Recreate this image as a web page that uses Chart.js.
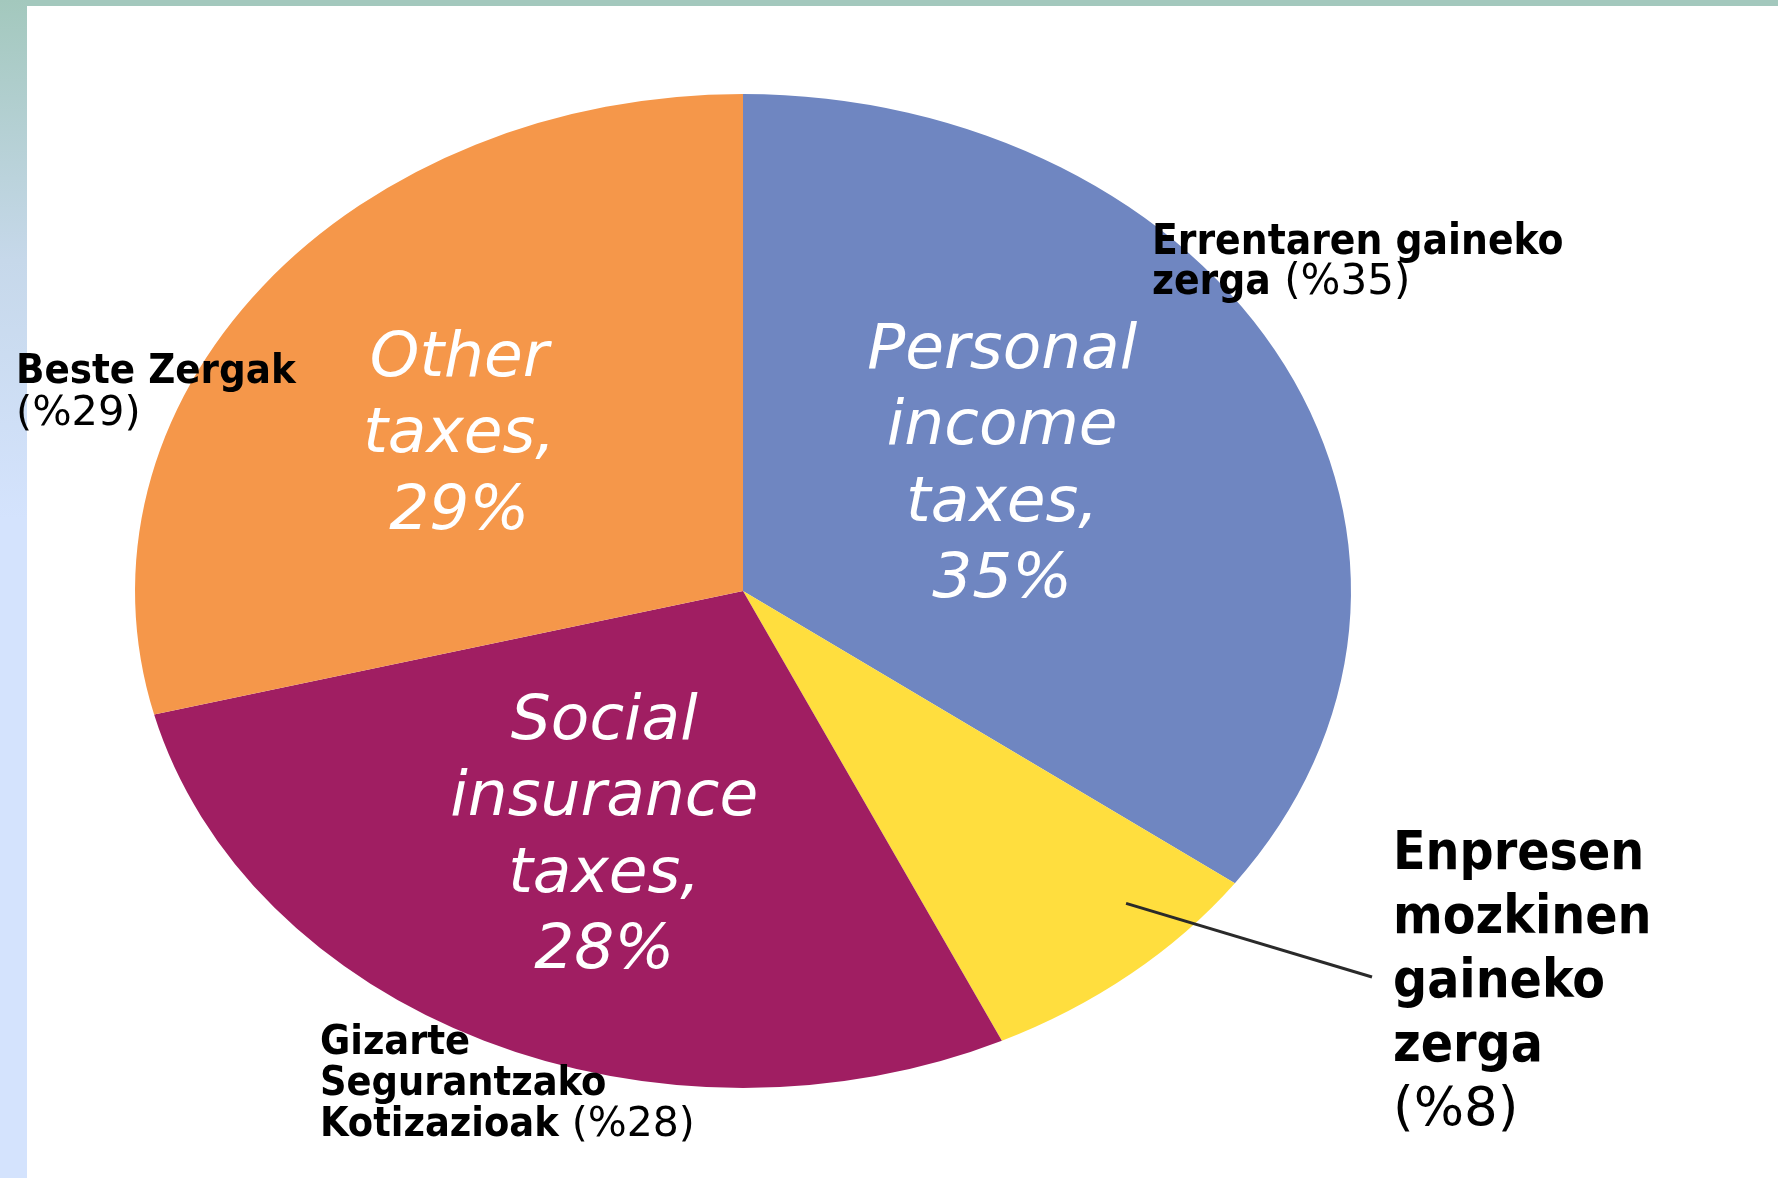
<!DOCTYPE html>
<html>
<head>
<meta charset="utf-8">
<title>Tax revenue by source</title>
<script src="https://cdn.jsdelivr.net/npm/chart.js@4.4.1/dist/chart.umd.min.js"></script>
<style>
  html, body { margin: 0; padding: 0; background: #fff; }
  #frame { position: relative; width: 1778px; height: 1178px; overflow: hidden; background: #fff; }
  #topbar { position: absolute; left: 0; top: 0; width: 1778px; height: 6px; background: #a3c8bd; }
  #sidebar {
    position: absolute; left: 0; top: 0; width: 27px; height: 1178px;
    background: linear-gradient(#a3c8bd 0px, #c6d8ea 260px, #d4e3fd 520px, #d4e3fd 1178px);
  }
  #pie { position: absolute; left: 0; top: 0; }
  .ext { position: absolute; font-family: "DejaVu Sans", sans-serif; color: #000; white-space: nowrap; }
  .ext b { font-family: "DejaVu Sans Condensed", "DejaVu Sans", sans-serif; font-stretch: condensed; font-weight: bold; }
</style>
</head>
<body>
<div id="frame">
  <div id="topbar"></div>
  <div id="sidebar"></div>
  <canvas id="pie" width="1778" height="1178"></canvas>
  <div id="labels"></div>
</div>

<script>
// ── Data ─────────────────────────────────────────────────────
const CATEGORIES = ['Personal income taxes', 'Corporate income taxes', 'Social insurance taxes', 'Other taxes'];
const SHARES     = [35, 8, 28, 29];
const COLORS     = ['#6f86c1', '#ffde3e', '#a01e62', '#f5974a'];

// words shown inside the slices (percentage is appended from SHARES)
const INNER_WORDS = [['Personal', 'income', 'taxes,'], null, ['Social', 'insurance', 'taxes,'], ['Other', 'taxes,']];

// Basque labels outside the pie
const BASQUE_LINES = [
  ['Errentaren gaineko', 'zerga'],
  ['Enpresen', 'mozkinen', 'gaineko', 'zerga'],
  ['Gizarte', 'Segurantzako', 'Kotizazioak'],
  ['Beste Zergak']
];

// ── Layout / style ───────────────────────────────────────────
const STRETCH = 1.2233;               // pie is an ellipse: horizontal / vertical radius
const INNER_R  = [0.50, 0, 0.536, 0.567];
const INNER_DA = [-4.5, 0, 0, -3.2];  // degrees
const INNER_DY = 5;
const INNER_FONT = 'italic 63px "DejaVu Sans"';
const INNER_LH = 76.5;

const EXT_STYLE = [
  { left: 1152, top: 220, size: 42, lh: 40, pctOwnLine: false },
  { left: 1393, top: 819, size: 53, lh: 64, pctOwnLine: true },
  { left: 320,  top: 1020, size: 41, lh: 41, pctOwnLine: false },
  { left: 16,   top: 348, size: 41.5, lh: 42, pctOwnLine: true }
];

// ── External labels (HTML text) ──────────────────────────────
document.getElementById('labels').innerHTML = BASQUE_LINES.map((lines, i) => {
  const s = EXT_STYLE[i];
  const pct = `(%${SHARES[i]})`;
  const body = lines.map(l => `<b>${l}</b>`);
  if (s.pctOwnLine) body.push(pct);
  else body[body.length - 1] += ' ' + pct;
  return `<div class="ext" style="left:${s.left}px;top:${s.top}px;font-size:${s.size}px;line-height:${s.lh}px;">` +
         body.join('<br>') + '</div>';
}).join('');

// ── Plugins ──────────────────────────────────────────────────
const ellipsePlugin = {
  id: 'ellipse',
  beforeDatasetsDraw(chart) {
    const a = chart.chartArea, ctx = chart.ctx;
    const cx = (a.left + a.right) / 2;
    ctx.save();
    ctx.translate(cx, 0);
    ctx.scale(STRETCH, 1);
    ctx.translate(-cx, 0);
  },
  afterDatasetsDraw(chart) { chart.ctx.restore(); }
};

const labelPlugin = {
  id: 'innerLabels',
  afterDraw(chart) {
    const ctx = chart.ctx;
    const arcs = chart.getDatasetMeta(0).data;
    ctx.save();

    arcs.forEach((arc, i) => {
      const words = INNER_WORDS[i];
      if (!words) return;
      const lines = words.concat(SHARES[i] + '%');
      const mid = (arc.startAngle + arc.endAngle) / 2 + INNER_DA[i] * Math.PI / 180;
      const r = arc.outerRadius * INNER_R[i];
      const x = arc.x + Math.cos(mid) * r * STRETCH;
      const y = arc.y + Math.sin(mid) * r + INNER_DY;
      ctx.font = INNER_FONT;
      ctx.fillStyle = '#ffffff';
      ctx.textAlign = 'center';
      ctx.textBaseline = 'middle';
      const y0 = y - (lines.length - 1) * INNER_LH / 2;
      lines.forEach((t, k) => ctx.fillText(t, x, y0 + k * INNER_LH));
    });

    // leader line from the small slice to its label
    const a = arcs[1];
    const ang = a.startAngle + 0.31 * (a.endAngle - a.startAngle);
    const sx = a.x + Math.cos(ang) * a.outerRadius * 0.89 * STRETCH;
    const sy = a.y + Math.sin(ang) * a.outerRadius * 0.89;
    ctx.strokeStyle = '#2a2a2a';
    ctx.lineWidth = 3;
    ctx.beginPath();
    ctx.moveTo(sx, sy);
    ctx.lineTo(1372, 977);
    ctx.stroke();
    ctx.restore();
  }
};

// ── Chart ────────────────────────────────────────────────────
new Chart(document.getElementById('pie'), {
  type: 'pie',
  data: {
    labels: CATEGORIES,
    datasets: [{
      data: SHARES,
      backgroundColor: COLORS,
      borderWidth: 0
    }]
  },
  options: {
    responsive: false,
    animation: false,
    devicePixelRatio: 1,
    layout: { padding: { left: 246, right: 538, top: 94, bottom: 90 } },
    plugins: {
      legend: { display: false },
      tooltip: { enabled: false }
    }
  },
  plugins: [ellipsePlugin, labelPlugin]
});
</script>
</body>
</html>
